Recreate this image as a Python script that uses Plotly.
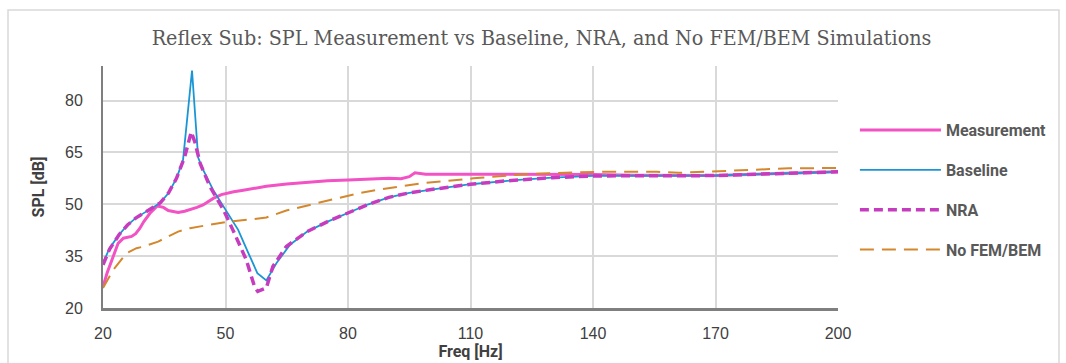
import plotly.graph_objects as go

# ---- Data ----
meas_f = [20, 21, 22.5, 23.7, 25, 26, 27, 28, 29, 30, 31.5, 33.3, 34.8, 36, 37.5, 38.4, 40, 41.3,
          43, 44.5, 47, 49, 50.7, 52, 54, 56.7, 60, 65, 70, 75, 80, 85, 90, 93, 95, 96.4, 99,
          110, 120, 130, 140, 150, 160, 170, 180, 190, 200]
meas_v = [26.2, 30.1, 34.9, 38.7, 40.2, 40.5, 40.7, 41.5, 43.0, 45.0, 47.4, 49.5, 49.1, 48.2, 47.7,
          47.6, 48.0, 48.4, 49.1, 49.8, 51.7, 52.8, 53.3, 53.6, 54.0, 54.6, 55.2, 55.9, 56.4, 56.8,
          57.0, 57.3, 57.5, 57.4, 58.0, 59.1, 58.7, 58.7, 58.7, 58.7, 58.6, 58.4, 58.4, 58.3, 58.7,
          59.1, 59.4]

base_f = [20, 21.6, 24, 26, 28, 30, 32, 34, 36, 38, 39.6, 41.8, 43.3, 44.5, 47, 49, 50, 53.1,
          55.6, 57.8, 60, 62.5, 65.8, 70, 75, 80, 85, 90, 95, 100, 110, 120, 130, 140, 150, 160,
          170, 180, 190, 200]
base_v = [33.0, 37.3, 41.3, 44.0, 46.0, 47.4, 48.8, 50.4, 53.2, 57.5, 62.8, 88.7, 63.5, 60.0,
          54.1, 50.2, 48.4, 42.6, 35.9, 30.1, 28.0, 33.0, 38.3, 42.1, 45.0, 47.6, 50.0, 52.0, 53.3,
          54.2, 55.8, 56.9, 57.7, 58.2, 58.3, 58.4, 58.3, 58.7, 59.1, 59.4]

nra_f = [20, 21.6, 24, 26, 28, 30, 32, 34, 36, 38, 40, 41.6, 42.5, 43.8, 46.2, 49.5, 51.8, 55.1,
         57.1, 57.9, 60, 61.6, 64.9, 70, 75, 80, 85, 90, 95, 100, 110, 120, 130, 140, 150, 160,
         170, 180, 190, 200]
nra_v = [32.5, 37.0, 41.3, 44.0, 46.0, 47.4, 48.8, 50.4, 53.2, 57.5, 63.7, 70.9, 68.0, 61.8,
         55.1, 48.4, 42.6, 33.9, 26.2, 24.8, 25.8, 32.0, 37.8, 42.1, 45.0, 47.6, 50.0, 52.0, 53.3,
         54.2, 55.8, 56.9, 57.7, 58.2, 58.3, 58.4, 58.3, 58.7, 59.1, 59.4]

nofem_f = [20, 22.5, 25.8, 28.2, 30, 33.5, 36, 38.4, 41.3, 46.2, 50.7, 56.7, 60, 64.9, 73.1, 78,
           83, 87.8, 98.4, 110.7, 123, 135, 141.7, 150, 155.6, 161, 172, 180, 188, 200]
nofem_v = [25.8, 31.0, 35.9, 37.3, 37.8, 39.2, 40.7, 42.1, 43.1, 44.0, 45.0, 45.7, 46.2, 48.2,
           50.5, 51.7, 53.3, 54.3, 56.1, 57.5, 58.7, 59.2, 59.4, 59.4, 59.4, 59.1, 59.6, 60.0,
           60.4, 60.5]

x_ticks = [20, 50, 80, 110, 140, 170, 200]
y_ticks = [20, 35, 50, 65, 80]

fig = go.Figure()
fig.add_trace(go.Scatter(x=meas_f, y=meas_v, name="Measurement", mode="lines",
                         line=dict(color="#F252C3", width=3), legendgroup="a"))
fig.add_trace(go.Scatter(x=base_f, y=base_v, name="Baseline", mode="lines",
                         line=dict(color="#1A96D4", width=1.8), legendgroup="b"))
fig.add_trace(go.Scatter(x=nra_f, y=nra_v, name="NRA", mode="lines",
                         line=dict(color="#C63CBF", width=3.5, dash="9px,5px"), legendgroup="c"))
fig.add_trace(go.Scatter(x=nofem_f, y=nofem_v, name="No FEM/BEM", mode="lines",
                         line=dict(color="#D4872D", width=2, dash="14px,8px"), legendgroup="d"))

axis_font = dict(family="Liberation Sans, Arial, sans-serif", size=16, color="#404040")
fig.update_layout(
    width=1066, height=363,
    margin=dict(l=103, r=228, t=66, b=55),
    paper_bgcolor="white", plot_bgcolor="white",
    title=dict(text="Reflex Sub: SPL Measurement vs Baseline, NRA, and No FEM/BEM Simulations",
               x=0.508, xanchor="center", y=0.897, yanchor="middle",
               font=dict(family="DejaVu Serif Condensed, DejaVu Serif, serif", size=21.3, color="#595959")),
    xaxis=dict(range=[20, 200], tickvals=x_ticks, showgrid=True, gridcolor="#D9D9D9", gridwidth=1.5,
               showline=True, linecolor="#7F7F7F", linewidth=3, zeroline=False, automargin=False,
               tickfont=axis_font, ticklabelstandoff=9,
               title=dict(text="<b>Freq [Hz]</b>", font=dict(family="Roboto, sans-serif", size=16, color="#404040"), standoff=3)),
    yaxis=dict(range=[20, 90], tickvals=y_ticks, showgrid=True, gridcolor="#D9D9D9", gridwidth=1.5,
               showline=True, linecolor="#7F7F7F", linewidth=2, zeroline=False, automargin=False,
               tickfont=axis_font, ticklabelstandoff=15,
               title=dict(text="<b>SPL [dB]</b>", font=dict(family="Roboto, sans-serif", size=16, color="#404040"), standoff=16)),
    legend=dict(x=1.023, xanchor="left", y=0.805, yanchor="top", traceorder="grouped",
                tracegroupgap=16, itemwidth=81,
                font=dict(family="Roboto, sans-serif", size=16, color="#595959", weight="bold"),
                bgcolor="rgba(0,0,0,0)"),
    shapes=[dict(type="rect", xref="paper", yref="paper",
                 x0=(8 - 103) / 735, x1=(1059 - 103) / 735,
                 y0=(308 - 370) / 242, y1=(308 - 10) / 242,
                 line=dict(color="#D9D9D9", width=1.5), layer="below")],
)

fig.write_html("out.html")
